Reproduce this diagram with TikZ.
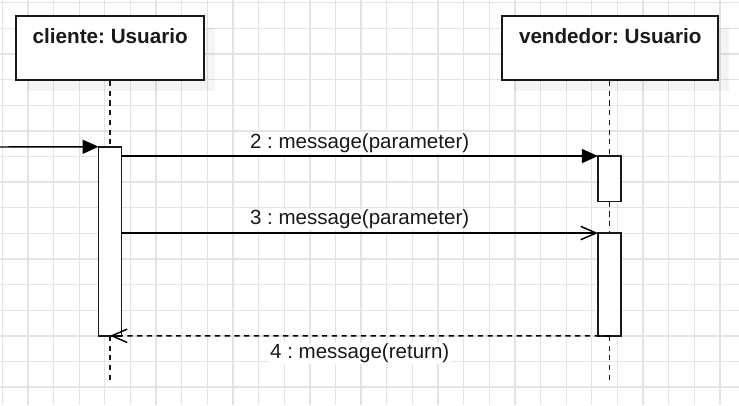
\documentclass[tikz,border=0pt]{standalone}
\usepackage{fontspec}
\setmainfont{Liberation Sans}
\usetikzlibrary{arrows.meta,calc}
\frenchspacing
\tikzset{
  gridline/.style={draw=black!11, line width=1pt},
  objbox/.style={draw=black!90, fill=white, line width=1.3pt, rectangle, inner sep=0pt},
  shadowbox/.style={fill=black, fill opacity=0.045, draw=none},
  actbox/.style={draw=black!90, fill=white, line width=1.2pt, rectangle, inner sep=0pt},
  lifeline/.style={draw=black!90, line width=1.1pt, dash pattern=on 3.9pt off 3.4pt},
  msg/.style={draw=black, line width=1.1pt},
  retmsg/.style={draw=black, line width=1.1pt, dash pattern=on 3.9pt off 3.4pt},
  title/.style={font=\fontsize{15.5}{18}\selectfont\bfseries, text=black!90, inner sep=0pt},
  lbl/.style={font=\fontsize{15.4}{18}\selectfont, text=black!90, fill=white, inner sep=1pt},
  filledtip/.style={-{Triangle[length=12pt,width=10.5pt]}},
  opentip/.style={-{Straight Barb[length=11.5pt,width=10pt,line width=1.1pt]}}
}
\begin{document}
\begin{tikzpicture}[x=0.75pt,y=-0.75pt]
\useasboundingbox (0,0) rectangle (739,405);
\fill[white] (0,0) rectangle (739,405);
% grid
\foreach \k in {0,...,28} {\draw[gridline] ({2.3+25.63*\k},0) -- ({2.3+25.63*\k},405);}
\foreach \k in {0,...,15} {\draw[gridline] (0,{2.7+25.63*\k}) -- (739,{2.7+25.63*\k});}
% shadows
\fill[shadowbox] (27.7,27.7) rectangle (215,90.5);
\fill[shadowbox] (513.7,27.7) rectangle (728.7,90.5);
% object boxes
\node[objbox, minimum width=141.2pt, minimum height=48.2pt] (cli) at (109.85,47.85) {};
\node[objbox, minimum width=162pt, minimum height=48.2pt] (ven) at (609.7,47.85) {};
\node[title] (clit) at (110.2,36.5) {cliente: Usuario};
\node[title] (vent) at (610.3,36.5) {vendedor: Usuario};
% activation boxes (positions)
\coordinate (cliend) at (110,383.3);
\coordinate (venend) at (609.5,383.3);
\node[minimum width=16.7pt, minimum height=141.4pt, inner sep=0pt] (acta) at (110,241.25) {};
\node[minimum width=16.95pt, minimum height=33.75pt, inner sep=0pt] (venb) at (609.5,178.8) {};
\node[minimum width=16.95pt, minimum height=76.65pt, inner sep=0pt] (venc) at (609.5,284.4) {};
% lifelines
\draw[lifeline] (cli.south -| acta.center) -- (acta.north);
\draw[lifeline] (acta.south) -- (cliend);
\draw[lifeline] (ven.south -| venb.center) -- (venb.north);
\draw[lifeline] (venb.south) -- (venc.north);
\draw[lifeline] (venc.south) -- (venend);
% activation boxes drawn
\draw[actbox] (acta.north west) rectangle (acta.south east);
\draw[actbox] (venb.north west) rectangle (venb.south east);
\draw[actbox] (venc.north west) rectangle (venc.south east);
% messages
\coordinate (found) at (0,147);
\draw[msg, filledtip] (found) -- (acta.north west);
\draw[msg, filledtip] (acta.east |- venb.north) -- node[lbl, midway, yshift=9.6pt] (m2) {2 : message(parameter)} (venb.north west);
\draw[msg, opentip] (acta.east |- venc.north) -- node[lbl, midway, yshift=10.2pt] (m3) {3 : message(parameter)} (venc.north west);
\draw[retmsg, opentip] (venc.south) -- node[lbl, midway, yshift=-13.3pt] (m4) {4 : message(return)} (acta.south);
\end{tikzpicture}
\end{document}
